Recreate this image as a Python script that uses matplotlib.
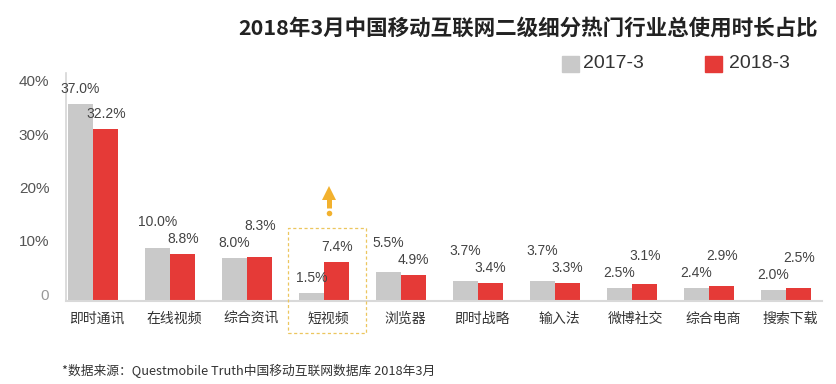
import numpy as np
import matplotlib
matplotlib.use("Agg")
import matplotlib.pyplot as plt
from matplotlib.patches import Rectangle
from matplotlib.transforms import ScaledTranslation

plt.rcParams['font.family'] = ['Noto Sans CJK SC', 'DejaVu Sans']

categories = ['即时通讯', '在线视频', '综合资讯', '短视频', '浏览器',
              '即时战略', '输入法', '微博社交', '综合电商', '搜索下载']
share_2017 = [37.0, 10.0, 8.0, 1.5, 5.5, 3.7, 3.7, 2.5, 2.4, 2.0]
share_2018 = [32.2, 8.8, 8.3, 7.4, 4.9, 3.4, 3.3, 3.1, 2.9, 2.5]
yticks = [0, 10, 20, 30, 40]
ytick_labels = ['0', '10%', '20%', '30%', '40%']
series_names = ['2017-3', '2018-3']
highlight = '短视频'

title = '2018年3月中国移动互联网二级细分热门行业总使用时长占比'
source = '*数据来源：Questmobile Truth中国移动互联网数据库 2018年3月'

GRAY = '#c9c9c9'
RED = '#e53a37'
GOLD = '#ecc65e'
ARROW = '#f2b12e'
W, H = 837, 384
latin = ['Liberation Sans', 'DejaVu Sans']

fig = plt.figure(figsize=(W / 100, H / 100), dpi=100)
ax = fig.add_axes([66 / W, 83 / H, 756 / W, 228 / H])

x = np.arange(len(categories))
bw = 0.33
ax.bar(x - bw / 2, share_2017, bw, color=GRAY, zorder=2)
ax.bar(x + bw / 2, share_2018, bw, color=RED, zorder=2)

ax.set_xlim(-0.351, 9.468)
ax.set_ylim(0, 42.8)

for s in ['top', 'right']:
    ax.spines[s].set_visible(False)
ax.spines['left'].set_color('#d6d6d6')
ax.spines['bottom'].set_color('#d9d9d9')
ax.spines['left'].set_linewidth(1.2)
ax.spines['bottom'].set_linewidth(1.5)

ax.set_xticks(x + 0.05)
ax.set_xticklabels(categories, fontsize=10, color='#333333')
ax.tick_params(axis='x', length=0, pad=8)
ax.set_yticks(yticks)
ax.set_yticklabels(ytick_labels, fontsize=11, color='#555555', family=latin)
ax.tick_params(axis='y', length=0, pad=12)
ax.get_yticklabels()[0].set_color('#999999')
shift = ScaledTranslation(0, 5 / 72, fig.dpi_scale_trans)
for lab in ax.get_yticklabels():
    lab.set_transform(lab.get_transform() + shift)

# value labels, staggered so the pair doesn't collide
px_per_unit = 228 / 42.8
for i, (a, b) in enumerate(zip(share_2017, share_2018)):
    ya = a * px_per_unit + 8
    yb = b * px_per_unit + 8
    if a >= b:
        ya = max(ya, yb + 17)
    else:
        yb = max(yb, ya + 17)
    for xi, v, ypx in [(i - bw / 2, a, ya), (i + bw / 2, b, yb)]:
        ax.text(xi, ypx / px_per_unit, f'{v:.1f}%', ha='center', va='bottom',
                fontsize=10, color='#444444', family=latin)

# highlight box + "up" marker
hi = categories.index(highlight)
ax.add_patch(Rectangle((hi - 0.468, -6.0), 1.013, 19.7, fill=False,
                       edgecolor=GOLD, lw=0.9, linestyle=(0, (2.5, 2)),
                       clip_on=False, zorder=3))
ax.plot([hi + 0.06] * 2, [17.4, 19.8], color=ARROW, lw=3.6,
        solid_capstyle='butt', clip_on=False)
ax.plot([hi + 0.06], [20.2], marker='^', color=ARROW, ms=10, mew=0,
        clip_on=False)
ax.plot([hi + 0.06], [16.5], 'o', color=ARROW, ms=4, mew=0, clip_on=False)

# title, legend, source
fig.text(528 / W, 1 - 28 / H, title, ha='center', va='center',
         fontsize=15.5, fontweight='heavy', color='#222222')
for (lx, tx), c, name in zip([(562, 583), (705, 729)], [GRAY, RED], series_names):
    fig.patches.append(Rectangle((lx / W, 1 - 72 / H), 17 / W, 16 / H,
                                 transform=fig.transFigure, color=c))
    fig.text(tx / W, 1 - 64 / H, name, ha='left', va='center',
             fontsize=14, color='#333333', family=latin)
fig.text(62 / W, 1 - 371 / H, source, ha='left', va='center',
         fontsize=9.2, color='#333333')

fig.savefig('out.png', dpi=100)
